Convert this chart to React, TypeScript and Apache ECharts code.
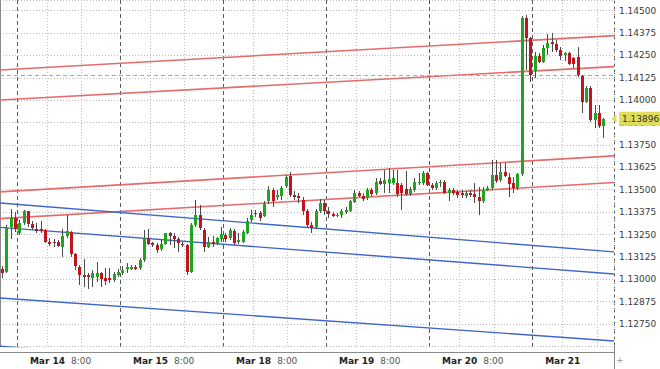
import React, { useEffect, useRef } from 'react';
import * as echarts from 'echarts';

// ---- time categories (hourly candles) ----
const tradingDays = ['Mar 13', 'Mar 14', 'Mar 15', 'Mar 18', 'Mar 19', 'Mar 20', 'Mar 21'];
const firstHour = 20;
const lastHour = 18;
const categories: string[] = [];
tradingDays.forEach((d, di) => {
  const start = di === 0 ? firstHour : 0;
  const end = di === tradingDays.length - 1 ? lastHour : 23;
  for (let h = start; h <= end; h++) categories.push(`${d} ${String(h).padStart(2, '0')}:00`);
});

const daySplitIdx = [4, 28, 52, 76, 100, 124];
const minorSplitIdx = [11, 19, 35, 43, 59, 67, 83, 91, 107, 115, 131, 139];
const xTickIdx = [6, 30, 54, 78, 102, 126];
const xTickDates = ['Mar 14', 'Mar 15', 'Mar 18', 'Mar 19', 'Mar 20', 'Mar 21'];
const xTickTimes = ['8:00', '8:00', '8:00', '8:00', '8:00', ''];

// ---- OHLC ----
const opens = [
  1.13058, 1.13043, 1.13294, 1.13345, 1.13261, 1.13313, 1.13379, 1.13309, 1.13280, 1.13280,
  1.13276, 1.13211, 1.13206, 1.13206, 1.13183, 1.13242, 1.13266, 1.13140, 1.13071, 1.13025,
  1.13022, 1.13006, 1.13012, 1.13034, 1.13006, 1.13005, 1.12997, 1.13025, 1.13034, 1.13057,
  1.13060, 1.13067, 1.13062, 1.13108, 1.13230, 1.13202, 1.13193, 1.13168, 1.13198, 1.13257,
  1.13242, 1.13225, 1.13198, 1.13193, 1.13043, 1.13304, 1.13360, 1.13276, 1.13183, 1.13211,
  1.13202, 1.13225, 1.13248, 1.13230, 1.13270, 1.13206, 1.13211, 1.13261, 1.13332, 1.13371,
  1.13371, 1.13355, 1.13435, 1.13499, 1.13460, 1.13465, 1.13521, 1.13577, 1.13471, 1.13465,
  1.13443, 1.13379, 1.13304, 1.13293, 1.13379, 1.13427, 1.13383, 1.13364, 1.13355, 1.13360,
  1.13373, 1.13384, 1.13429, 1.13484, 1.13465, 1.13453, 1.13499, 1.13484, 1.13551, 1.13532,
  1.13536, 1.13540, 1.13536, 1.13527, 1.13504, 1.13477, 1.13499, 1.13536, 1.13536, 1.13592,
  1.13527, 1.13508, 1.13536, 1.13545, 1.13484, 1.13499, 1.13489, 1.13482, 1.13465, 1.13482,
  1.13477, 1.13458, 1.13435, 1.13499, 1.13508, 1.13583, 1.13555, 1.13601, 1.13573, 1.13536,
  1.13508, 1.13588, 1.14460, 1.14345, 1.14163, 1.14248, 1.14215, 1.14289, 1.14323, 1.14312,
  1.14280, 1.14252, 1.14262, 1.14234, 1.14243, 1.14137, 1.13991, 1.14066, 1.13889, 1.13927,
  1.13858,
];
const highs = [
  1.13075, 1.13304, 1.13394, 1.13373, 1.13332, 1.13388, 1.13384, 1.13323, 1.13313, 1.13323,
  1.13280, 1.13230, 1.13225, 1.13221, 1.13280, 1.13360, 1.13272, 1.13146, 1.13080, 1.13114,
  1.13037, 1.13052, 1.13099, 1.13043, 1.13064, 1.13064, 1.13043, 1.13058, 1.13075, 1.13092,
  1.13080, 1.13080, 1.13119, 1.13276, 1.13280, 1.13211, 1.13202, 1.13221, 1.13261, 1.13266,
  1.13257, 1.13235, 1.13211, 1.13198, 1.13313, 1.13443, 1.13416, 1.13285, 1.13238, 1.13242,
  1.13238, 1.13294, 1.13257, 1.13287, 1.13281, 1.13259, 1.13276, 1.13344, 1.13388, 1.13388,
  1.13383, 1.13438, 1.13521, 1.13510, 1.13499, 1.13521, 1.13583, 1.13599, 1.13493, 1.13482,
  1.13460, 1.13394, 1.13321, 1.13394, 1.13449, 1.13443, 1.13405, 1.13377, 1.13371, 1.13394,
  1.13405, 1.13443, 1.13499, 1.13495, 1.13480, 1.13508, 1.13510, 1.13564, 1.13564, 1.13610,
  1.13622, 1.13610, 1.13610, 1.13538, 1.13605, 1.13516, 1.13566, 1.13594, 1.13605, 1.13599,
  1.13538, 1.13549, 1.13555, 1.13555, 1.13510, 1.13510, 1.13499, 1.13499, 1.13493, 1.13499,
  1.13538, 1.13516, 1.13516, 1.13521, 1.13666, 1.13666, 1.13650, 1.13650, 1.13594, 1.13571,
  1.13594, 1.14470, 1.14475, 1.14354, 1.14270, 1.14263, 1.14308, 1.14368, 1.14373, 1.14336,
  1.14297, 1.14270, 1.14270, 1.14243, 1.14298, 1.14141, 1.14079, 1.14079, 1.13973, 1.13973,
  1.13900,
];
const lows = [
  1.13008, 1.13036, 1.13226, 1.13266, 1.13248, 1.13304, 1.13294, 1.13276, 1.13257, 1.13261,
  1.13202, 1.13187, 1.13180, 1.13180, 1.13127, 1.13232, 1.13127, 1.13052, 1.12969, 1.12959,
  1.12946, 1.12959, 1.12987, 1.12959, 1.12969, 1.12980, 1.12987, 1.13013, 1.13025, 1.13037,
  1.13052, 1.13052, 1.13052, 1.13099, 1.13193, 1.13183, 1.13149, 1.13160, 1.13193, 1.13193,
  1.13174, 1.13155, 1.13183, 1.13025, 1.13034, 1.13294, 1.13276, 1.13155, 1.13174, 1.13183,
  1.13193, 1.13211, 1.13211, 1.13221, 1.13193, 1.13198, 1.13204, 1.13253, 1.13321, 1.13349,
  1.13327, 1.13349, 1.13422, 1.13405, 1.13443, 1.13443, 1.13510, 1.13460, 1.13443, 1.13427,
  1.13360, 1.13287, 1.13259, 1.13281, 1.13371, 1.13360, 1.13344, 1.13349, 1.13349, 1.13344,
  1.13366, 1.13377, 1.13426, 1.13461, 1.13435, 1.13443, 1.13465, 1.13471, 1.13527, 1.13480,
  1.13484, 1.13527, 1.13461, 1.13388, 1.13465, 1.13465, 1.13488, 1.13527, 1.13527, 1.13521,
  1.13499, 1.13499, 1.13517, 1.13477, 1.13435, 1.13471, 1.13454, 1.13454, 1.13454, 1.13460,
  1.13427, 1.13360, 1.13427, 1.13493, 1.13499, 1.13536, 1.13543, 1.13571, 1.13461, 1.13482,
  1.13499, 1.13577, 1.14168, 1.14103, 1.14124, 1.14207, 1.14207, 1.14252, 1.14269, 1.14269,
  1.14224, 1.14219, 1.14196, 1.14180, 1.14129, 1.13927, 1.13984, 1.13878, 1.13845, 1.13845,
  1.13789,
];
const closes = [
  1.13036, 1.13294, 1.13342, 1.13280, 1.13313, 1.13379, 1.13309, 1.13289, 1.13272, 1.13270,
  1.13211, 1.13197, 1.13200, 1.13187, 1.13242, 1.13270, 1.13142, 1.13075, 1.13025, 1.13012,
  1.13012, 1.13034, 1.13037, 1.13001, 1.12993, 1.12997, 1.13030, 1.13043, 1.13052, 1.13067,
  1.13067, 1.13060, 1.13108, 1.13228, 1.13198, 1.13193, 1.13164, 1.13198, 1.13257, 1.13242,
  1.13225, 1.13202, 1.13189, 1.13043, 1.13304, 1.13360, 1.13285, 1.13183, 1.13206, 1.13198,
  1.13230, 1.13252, 1.13226, 1.13276, 1.13202, 1.13221, 1.13266, 1.13323, 1.13360, 1.13366,
  1.13344, 1.13422, 1.13499, 1.13438, 1.13471, 1.13507, 1.13571, 1.13471, 1.13460, 1.13454,
  1.13379, 1.13304, 1.13285, 1.13379, 1.13427, 1.13379, 1.13366, 1.13355, 1.13360, 1.13383,
  1.13388, 1.13435, 1.13484, 1.13465, 1.13448, 1.13499, 1.13477, 1.13545, 1.13532, 1.13555,
  1.13559, 1.13564, 1.13477, 1.13482, 1.13477, 1.13504, 1.13545, 1.13545, 1.13592, 1.13527,
  1.13508, 1.13540, 1.13545, 1.13484, 1.13499, 1.13484, 1.13471, 1.13471, 1.13484, 1.13468,
  1.13458, 1.13435, 1.13499, 1.13508, 1.13583, 1.13551, 1.13601, 1.13577, 1.13532, 1.13508,
  1.13588, 1.14461, 1.14345, 1.14141, 1.14249, 1.14215, 1.14289, 1.14317, 1.14312, 1.14280,
  1.14248, 1.14262, 1.14200, 1.14200, 1.14141, 1.13991, 1.14066, 1.13889, 1.13927, 1.13858,
  1.13896,
];

// ---- trend channel lines: value at left edge, value at right edge ----
const redLine1 = [1.14168, 1.1436];
const redLine2 = [1.14001, 1.14187];
const redLine3 = [1.13488, 1.13689];
const redLine4 = [1.13339, 1.1354];
const blueLine1 = [1.13426, 1.13153];
const blueLine2 = [1.1329, 1.1303];
const blueLine3 = [1.12896, 1.12656];
const blueLine4 = [1.12626, 1.12386];

const refLevel = 1.14141;
const lastPrice = 1.13896;

const yMin = 1.12625;
const yMax = 1.14559;
const yStep = 0.00125;

const GREEN = '#1fa51f';
const RED = '#c0141e';
const WICK = '#4a4a4a';
const YELLOW = '#e0dc5c';
const FONT = 'DejaVu Sans';

export default function App() {
  const ref = useRef<HTMLDivElement>(null);

  useEffect(() => {
    document.body.style.margin = '0';
    if (!ref.current) return;
    const chart = echarts.init(ref.current, undefined, { renderer: 'svg' });

    const candleData = opens.map((o, i) => [i, o, closes[i], lows[i], highs[i]]);

    const renderCandle = (_params: any, api: any) => {
      const idx = api.value(0);
      const o = api.value(1);
      const c = api.value(2);
      const l = api.value(3);
      const h = api.value(4);
      const top = api.coord([idx, Math.max(o, c)]);
      const bot = api.coord([idx, Math.min(o, c)]);
      const hi = api.coord([idx, h]);
      const lo = api.coord([idx, l]);
      const cx = Math.round(top[0]) + 0.5;
      const bodyTop = Math.round(top[1]);
      const bodyH = Math.max(1, Math.round(bot[1]) - bodyTop);
      const up = c >= o;
      return {
        type: 'group',
        children: [
          {
            type: 'line',
            shape: { x1: cx, y1: Math.round(hi[1]), x2: cx, y2: Math.round(lo[1]) },
            style: { stroke: WICK, lineWidth: 1 },
          },
          {
            type: 'rect',
            shape: { x: cx - 1.5, y: bodyTop, width: 3, height: bodyH },
            style: { fill: up ? GREEN : RED },
          },
        ],
      };
    };

    const trend = (vals: number[], color: string, width: number, extra: any = {}) => ({
      type: 'line',
      xAxisIndex: 2,
      yAxisIndex: 0,
      data: [
        [0, vals[0]],
        [1, vals[1]],
      ],
      symbol: 'none',
      silent: true,
      z: 3,
      lineStyle: { color, width },
      ...extra,
    });

    const option: any = {
      animation: false,
      backgroundColor: '#ffffff',
      grid: { left: 0, right: 46, top: 0, bottom: 22.5, containLabel: false, outerBoundsMode: 'none' },
      xAxis: [
        {
          type: 'category',
          data: categories,
          position: 'bottom',
          offset: 5.5,
          boundaryGap: true,
          axisLine: { show: true, lineStyle: { color: '#8a8a8a', width: 1 } },
          axisTick: { show: false },
          axisLabel: {
            show: true,
            interval: (i: number) => xTickIdx.includes(i),
            align: 'left',
            margin: 4,
            fontFamily: FONT,
            fontSize: 9,
            formatter: (_v: string, i: number) => {
              const k = xTickIdx.indexOf(i);
              if (k < 0) return '';
              return xTickTimes[k] ? `{b|${xTickDates[k]}}{n|${xTickTimes[k]}}` : `{b|${xTickDates[k]}}`;
            },
            rich: {
              b: { fontFamily: FONT, fontWeight: 'bold', fontSize: 9, color: '#222222', padding: [0, 0, 0, 2] },
              n: { fontFamily: FONT, fontSize: 9, color: '#555555', padding: [0, 0, 0, 6] },
            },
          },
          splitLine: {
            show: true,
            interval: (i: number) => daySplitIdx.includes(i),
            lineStyle: { color: '#5a5a5a', width: 1, type: [4, 3] },
          },
        },
        {
          type: 'category',
          data: categories,
          position: 'bottom',
          boundaryGap: true,
          axisLine: { show: false },
          axisTick: { show: false },
          axisLabel: { show: false },
          splitLine: {
            show: true,
            interval: (i: number) => minorSplitIdx.includes(i),
            lineStyle: { color: '#bdbdbd', width: 1, type: [1, 2] },
          },
        },
        { type: 'value', min: 0, max: 1, show: false },
      ],
      yAxis: {
        type: 'value',
        position: 'right',
        min: yMin,
        max: yMax,
        interval: yStep,
        scale: true,
        axisLine: { show: true, lineStyle: { color: '#8a8a8a', width: 1 } },
        axisTick: { show: false },
        axisLabel: {
          margin: 5,
          color: '#3a3a3a',
          fontFamily: FONT,
          fontSize: 9,
          showMinLabel: false,
          showMaxLabel: false,
          formatter: (v: number) => v.toFixed(5),
        },
        splitLine: { show: true, lineStyle: { color: '#bdbdbd', width: 1, type: [1, 2] } },
      },
      series: [
        trend(redLine1, '#e46c6c', 1.6, {
          markLine: {
            silent: true,
            symbol: 'none',
            precision: 5,
            data: [
              {
                yAxis: refLevel,
                lineStyle: { color: '#a8a8a8', type: [4, 3], width: 1 },
                label: { show: false },
              },
              {
                yAxis: lastPrice,
                lineStyle: { color: 'rgba(0,0,0,0)', width: 1, opacity: 1 },
                label: {
                  show: true,
                  position: 'end',
                  distance: 5,
                  formatter: lastPrice.toFixed(5),
                  color: '#333333',
                  fontFamily: FONT,
                  fontSize: 9,
                  backgroundColor: YELLOW,
                  padding: [3, 3, 2, 3],
                },
              },
            ],
          },
          markPoint: {
            silent: true,
            symbol: 'triangle',
            symbolRotate: 90,
            symbolSize: [9, 5],
            itemStyle: { color: YELLOW },
            label: { show: false },
            data: [{ coord: [1, lastPrice] }],
          },
        }),
        trend(redLine2, '#e46c6c', 1.6),
        trend(redLine3, '#e46c6c', 1.6),
        trend(redLine4, '#e46c6c', 1.6),
        trend(blueLine1, '#3d66c8', 1.4),
        trend(blueLine2, '#3d66c8', 1.4),
        trend(blueLine3, '#3d66c8', 1.4),
        trend(blueLine4, '#3d66c8', 1.4),
        {
          type: 'custom',
          xAxisIndex: 0,
          yAxisIndex: 0,
          z: 5,
          silent: true,
          renderItem: renderCandle,
          encode: { x: 0, y: [1, 2, 3, 4] },
          data: candleData,
        },
      ],
      graphic: [
        {
          type: 'line',
          silent: true,
          shape: { x1: 614.5, y1: 346, x2: 614.5, y2: 369 },
          style: { stroke: '#8a8a8a', lineWidth: 1 },
        },
        {
          type: 'text',
          silent: true,
          x: 616,
          y: 355,
          style: { text: '+', fill: '#9a9a9a', fontSize: 9, fontFamily: FONT },
        },
      ],
    };

    chart.setOption(option);
    return () => chart.dispose();
  }, []);

  return <div ref={ref} style={{ width: 660, height: 369 }} />;
}
